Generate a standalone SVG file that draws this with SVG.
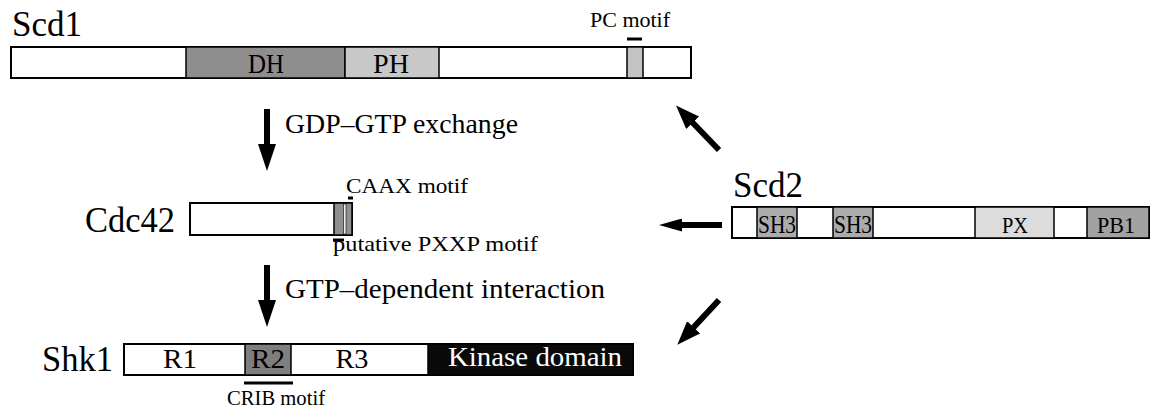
<svg xmlns="http://www.w3.org/2000/svg" width="1151" height="411" viewBox="0 0 1151 411">
<style>
text{font-family:"Liberation Serif","DejaVu Serif",serif;fill:#000}
.bar{fill:#fff;stroke:#000;stroke-width:2}
.dom{stroke:#000;stroke-width:1.5}
.lbl{font-size:35px}
.dl{font-size:27px;text-anchor:middle}
.sm{font-size:21px}
.mot{stroke:#000;stroke-width:3}
.shaft{stroke:#000;stroke-width:6;fill:none}
</style>
<defs>
<marker id="ahV" markerUnits="userSpaceOnUse" viewBox="0 0 27 18" refX="1" refY="9" markerWidth="27" markerHeight="18" orient="auto">
<path d="M0,0 L27,9 L0,18 Z" fill="#000"/>
</marker>
<marker id="ahD" markerUnits="userSpaceOnUse" viewBox="0 0 24 18" refX="1" refY="9" markerWidth="24" markerHeight="18" orient="auto">
<path d="M0,0 L24,9 L0,18 Z" fill="#000"/>
</marker>
<marker id="ahL" markerUnits="userSpaceOnUse" viewBox="0 0 23 13" refX="1" refY="6.5" markerWidth="23" markerHeight="13" orient="auto">
<path d="M0,0 L23,6.5 L0,13 Z" fill="#000"/>
</marker>
</defs>

<g id="Scd1">
<text class="lbl" x="12" y="36" textLength="70" lengthAdjust="spacingAndGlyphs">Scd1</text>
<rect class="bar" x="11" y="47" width="680" height="31"/>
<rect class="dom" x="186" y="47" width="159" height="31" fill="#8e8e8e"/>
<rect class="dom" x="345" y="47" width="94" height="31" fill="#c8c8c8"/>
<rect class="dom" x="627" y="47" width="16" height="31" fill="#c4c4c4"/>
<text class="dl" x="266" y="73" textLength="36" lengthAdjust="spacingAndGlyphs">DH</text>
<text class="dl" x="391" y="73" textLength="36" lengthAdjust="spacingAndGlyphs">PH</text>
<line class="mot" x1="627" y1="39" x2="642" y2="39"/>
<text class="sm" x="590" y="27" textLength="80" lengthAdjust="spacingAndGlyphs">PC motif</text>
</g>

<g id="Cdc42">
<text class="lbl" x="85" y="232" textLength="90" lengthAdjust="spacingAndGlyphs">Cdc42</text>
<rect class="bar" x="190" y="203" width="162" height="32"/>
<rect class="dom" x="334" y="203" width="18" height="32" fill="#909090"/>
<rect x="343.5" y="204" width="2.5" height="30" fill="#f0f0f0" stroke="#000" stroke-width="0.6"/>
<line class="mot" x1="348" y1="198" x2="353" y2="198"/>
<line class="mot" x1="333" y1="240" x2="344" y2="240"/>
<text class="sm" x="346" y="193" textLength="122" lengthAdjust="spacingAndGlyphs">CAAX motif</text>
<text class="sm" x="333" y="251" textLength="205" lengthAdjust="spacingAndGlyphs">putative PXXP motif</text>
</g>

<g id="Shk1">
<text class="lbl" x="42" y="371" textLength="71" lengthAdjust="spacingAndGlyphs">Shk1</text>
<rect class="bar" x="124" y="344" width="509" height="31"/>
<rect class="dom" x="245" y="344" width="46" height="31" fill="#7e7e7e"/>
<rect class="dom" x="428" y="344" width="205" height="31" fill="#0a0a0a"/>
<text class="dl" x="180" y="368" textLength="34" lengthAdjust="spacingAndGlyphs">R1</text>
<text class="dl" x="268" y="368" textLength="34" lengthAdjust="spacingAndGlyphs">R2</text>
<text class="dl" x="352" y="368" textLength="33" lengthAdjust="spacingAndGlyphs">R3</text>
<text x="448" y="366" font-size="28" textLength="174" lengthAdjust="spacingAndGlyphs" style="fill:#fff">Kinase domain</text>
<line class="mot" x1="244" y1="383" x2="293" y2="383"/>
<text class="sm" x="227" y="405" textLength="98" lengthAdjust="spacingAndGlyphs">CRIB motif</text>
</g>

<g id="Scd2">
<text class="lbl" x="733" y="197" textLength="70" lengthAdjust="spacingAndGlyphs">Scd2</text>
<rect class="bar" x="732" y="207" width="417" height="31"/>
<rect class="dom" x="757" y="207" width="40" height="31" fill="#ababab"/>
<rect class="dom" x="833" y="207" width="40" height="31" fill="#ababab"/>
<rect class="dom" x="975" y="207" width="79" height="31" fill="#dcdcdc"/>
<rect class="dom" x="1087" y="207" width="62" height="31" fill="#a2a2a2"/>
<text x="758" y="233" font-size="25" textLength="38" lengthAdjust="spacingAndGlyphs">SH3</text>
<text x="834" y="233" font-size="25" textLength="38" lengthAdjust="spacingAndGlyphs">SH3</text>
<text x="1002" y="233" font-size="24" textLength="26" lengthAdjust="spacingAndGlyphs">PX</text>
<text x="1097" y="233" font-size="24" textLength="38" lengthAdjust="spacingAndGlyphs">PB1</text>
</g>

<g id="connectors">
<line class="shaft" x1="267" y1="109" x2="267" y2="145" marker-end="url(#ahV)"/>
<text x="285" y="133" font-size="28" textLength="233" lengthAdjust="spacingAndGlyphs">GDP–GTP exchange</text>
<line class="shaft" x1="267" y1="265" x2="267" y2="301" marker-end="url(#ahV)"/>
<text x="285" y="298" font-size="28" textLength="320" lengthAdjust="spacingAndGlyphs">GTP–dependent interaction</text>
<line class="shaft" x1="722" y1="225" x2="681" y2="225" stroke-width="5" marker-end="url(#ahL)"/>
<line class="shaft" x1="719" y1="150" x2="692" y2="122" marker-end="url(#ahD)"/>
<line class="shaft" x1="719" y1="300" x2="693" y2="328" marker-end="url(#ahD)"/>
</g>
</svg>
